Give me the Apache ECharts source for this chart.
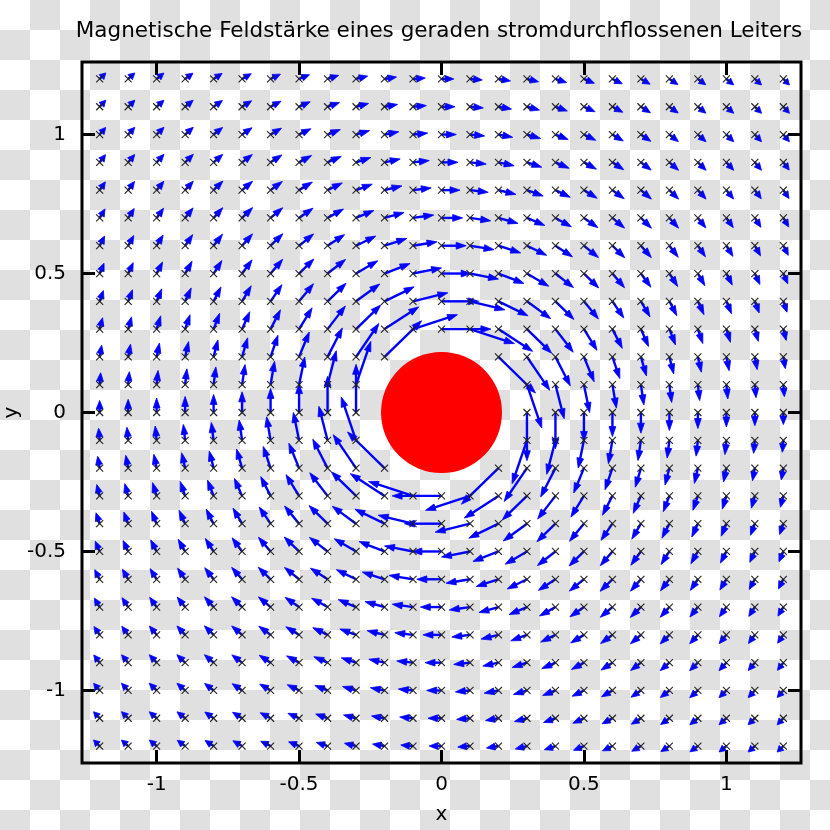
<!DOCTYPE html>
<html>
<head>
<meta charset="utf-8">
<script src="https://cdn.jsdelivr.net/npm/echarts@6/dist/echarts.min.js"></script>
<style>
  html, body { margin: 0; padding: 0; }
  body {
    width: 830px; height: 830px;
    background-color: #ffffff;
    background-image: repeating-conic-gradient(#e0e0e0 0 25%, #ffffff 0 50%);
    background-size: 60px 60px;
    background-position: 0 0;
  }
  #chart { width: 830px; height: 830px; }
</style>
</head>
<body>
<div id="chart"></div>
<script>
// ---- data ----
var titleText = 'Magnetische Feldstärke eines geraden stromdurchflossenen Leiters';
var gridX = [-1.2, -1.1, -1.0, -0.9, -0.8, -0.7, -0.6, -0.5, -0.4, -0.3, -0.2, -0.1, 0.0,
             0.1, 0.2, 0.3, 0.4, 0.5, 0.6, 0.7, 0.8, 0.9, 1.0, 1.1, 1.2];
var gridY = [-1.2, -1.1, -1.0, -0.9, -0.8, -0.7, -0.6, -0.5, -0.4, -0.3, -0.2, -0.1, 0.0,
             0.1, 0.2, 0.3, 0.4, 0.5, 0.6, 0.7, 0.8, 0.9, 1.0, 1.1, 1.2];
var xTicks = [-1, -0.5, 0, 0.5, 1];
var yTicks = [-1, -0.5, 0, 0.5, 1];
var xRange = [-1.262, 1.262];
var yRange = [-1.261, 1.261];
// field of a straight wire: |H| ~ fieldScale / r, clockwise; points closer than
// wireExclusion to the wire are not drawn
var fieldScale = 0.052;
var wireExclusion = 0.25;
var wireCenter = [0, 0];

// ---- build the vector table ----
var vectors = [];
for (var j = 0; j < gridY.length; j++) {
  for (var i = 0; i < gridX.length; i++) {
    var x = gridX[i], y = gridY[j];
    var r2 = x * x + y * y;
    if (Math.sqrt(r2) < wireExclusion) continue;
    vectors.push([x, y, fieldScale * y / r2, -fieldScale * x / r2]);
  }
}

var chart = echarts.init(document.getElementById('chart'), null, { renderer: 'canvas' });
var FONT = 'DejaVu Sans';
var BLUE = '#0000ff';

function axisCommon(pos, ticks, showLabel, range) {
  return {
    type: 'value',
    position: pos,
    min: range[0],
    max: range[1],
    axisLine: { show: false, onZero: false },
    splitLine: { show: false },
    axisTick: { show: true, inside: true, length: 13, customValues: ticks,
                lineStyle: { color: '#000', width: 3 } },
    axisLabel: { show: showLabel, customValues: ticks, color: '#000',
                 fontFamily: FONT, fontSize: 20 }
  };
}

var xBottom = axisCommon('bottom', xTicks, true, xRange);
xBottom.axisLabel.margin = 12;
xBottom.name = 'x';
xBottom.nameLocation = 'middle';
xBottom.nameGap = 42;
xBottom.nameMoveOverlap = false;
xBottom.nameTextStyle = { fontFamily: FONT, fontSize: 20, color: '#000' };
var xTop = axisCommon('top', xTicks, false, xRange);
var yLeft = axisCommon('left', yTicks, true, yRange);
yLeft.axisLabel.margin = 16;
yLeft.name = 'y';
yLeft.nameLocation = 'middle';
yLeft.nameGap = 60;
yLeft.nameMoveOverlap = false;
yLeft.nameTextStyle = { fontFamily: FONT, fontSize: 20, color: '#000' };
var yRight = axisCommon('right', yTicks, false, yRange);

chart.setOption({
  animation: false,
  backgroundColor: 'transparent',
  title: {
    text: titleText,
    left: 434,
    top: 15,
    textAlign: 'center',
    textStyle: { fontFamily: FONT, fontSize: 21.5, fontWeight: 'normal', color: '#000' }
  },
  grid: {
    left: 82, right: 29, top: 62, bottom: 67,
    containLabel: false,
    outerBoundsMode: 'none',
    show: true, borderColor: '#000', borderWidth: 3, backgroundColor: 'transparent'
  },
  xAxis: [xBottom, xTop],
  yAxis: [yLeft, yRight],
  series: [
    {
      type: 'custom',
      name: 'arrows',
      silent: true,
      clip: false,
      z: 2,
      data: vectors,
      encode: { x: 0, y: 1 },
      renderItem: function (params, api) {
        var x = api.value(0), y = api.value(1), dx = api.value(2), dy = api.value(3);
        var p0 = api.coord([x, y]);
        var p1 = api.coord([x + dx, y + dy]);
        var vx = p1[0] - p0[0], vy = p1[1] - p0[1];
        var len = Math.sqrt(vx * vx + vy * vy);
        var ux = vx / len, uy = vy / len;
        var hl = Math.min(10, len * 0.7), hw = 3.4;
        var bx = p1[0] - ux * hl, by = p1[1] - uy * hl;
        return {
          type: 'group',
          children: [
            { type: 'line', shape: { x1: p0[0], y1: p0[1], x2: bx + ux, y2: by + uy },
              style: { stroke: BLUE, lineWidth: 2.4 } },
            { type: 'polygon',
              shape: { points: [[p1[0], p1[1]], [bx - uy * hw, by + ux * hw], [bx + uy * hw, by - ux * hw]] },
              style: { fill: BLUE, stroke: BLUE, lineWidth: 0.8 } }
          ]
        };
      }
    },
    {
      type: 'custom',
      name: 'points',
      silent: true,
      z: 3,
      data: vectors,
      encode: { x: 0, y: 1 },
      renderItem: function (params, api) {
        var p = api.coord([api.value(0), api.value(1)]);
        var s = 3.5;
        return {
          type: 'group',
          children: [
            { type: 'line', shape: { x1: p[0] - s, y1: p[1] - s, x2: p[0] + s, y2: p[1] + s },
              style: { stroke: '#222', lineWidth: 1.1 } },
            { type: 'line', shape: { x1: p[0] - s, y1: p[1] + s, x2: p[0] + s, y2: p[1] - s },
              style: { stroke: '#222', lineWidth: 1.1 } }
          ]
        };
      }
    },
    {
      type: 'scatter',
      name: 'wire',
      silent: true,
      z: 4,
      symbol: 'circle',
      symbolSize: 121,
      itemStyle: { color: '#ff0000', opacity: 1 },
      data: [wireCenter]
    }
  ]
});
</script>
</body>
</html>
